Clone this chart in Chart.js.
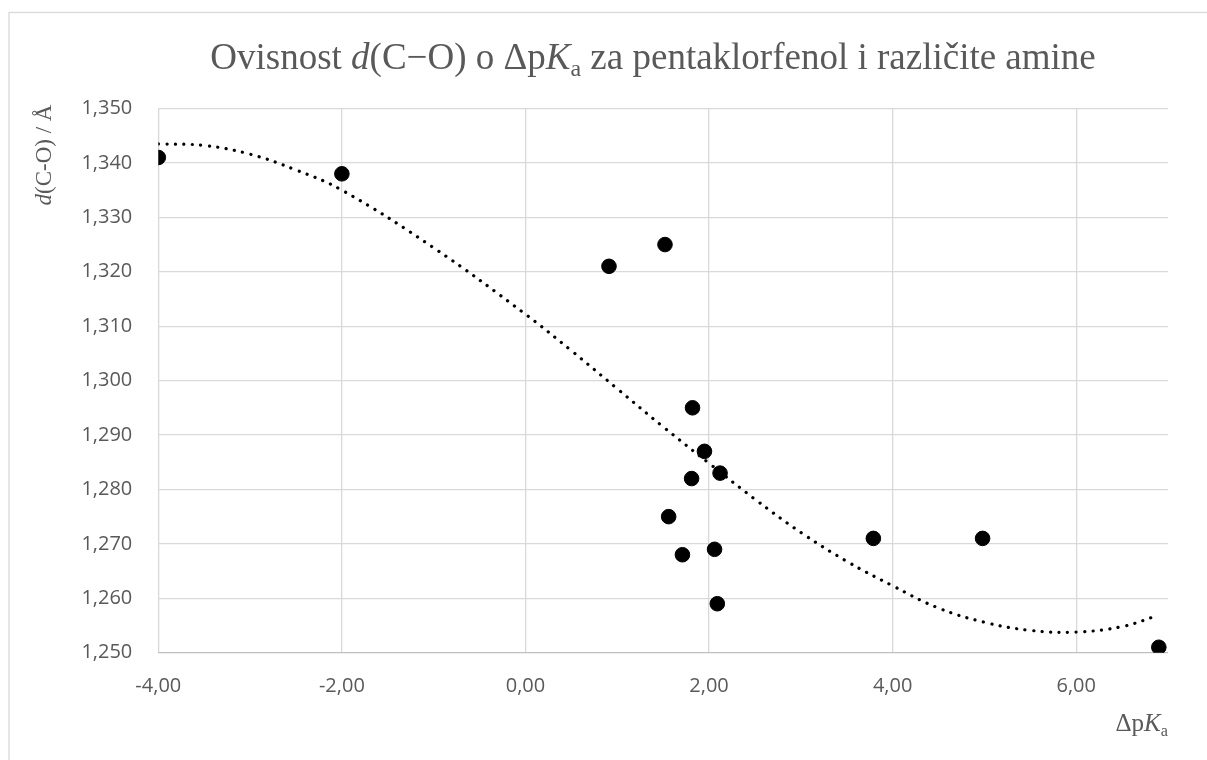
<!DOCTYPE html>
<html>
<head>
<meta charset="utf-8">
<script src="https://cdn.jsdelivr.net/npm/chart.js@4.4.1/dist/chart.umd.min.js"></script>
<style>
  body { margin: 0; background: #fff; }
  canvas { display: block; }
</style>
</head>
<body>
<canvas id="grafico" width="1207" height="760"></canvas>
<script>
// podaci ocitani sa slike
const deltaPKa = [-4.00, -2.00, 0.91, 1.52, 1.82, 1.95, 2.12, 1.81, 1.56, 1.71, 2.06, 2.09, 3.79, 4.98, 6.90];
const dCO = [1.341, 1.338, 1.321, 1.325, 1.295, 1.287, 1.283, 1.282, 1.275, 1.268, 1.269, 1.259, 1.271, 1.271, 1.251];

// trend linija (polinom) ocitana sa slike
const trendX = [-4.0, -3.5, -3.0, -2.5, -2.0, -1.0, 0.0, 0.5, 1.0, 1.5, 2.0, 2.5, 3.0, 3.5, 4.0, 4.5, 5.0, 5.5, 6.0, 6.5, 6.9];
const trendY = [1.3435, 1.3432, 1.3416, 1.3387, 1.3350, 1.3244, 1.3122, 1.3055, 1.2985, 1.2915, 1.2848, 1.2782, 1.2721, 1.2668, 1.2623, 1.2582, 1.2556, 1.2541, 1.2538, 1.2548, 1.2569];

const xTicks = [-4, -2, 0, 2, 4, 6];
const yTicks = [1.25, 1.26, 1.27, 1.28, 1.29, 1.30, 1.31, 1.32, 1.33, 1.34, 1.35];

const tocke = deltaPKa.map((x, i) => ({ x: x, y: dCO[i] }));
const trend = trendX.map((x, i) => ({ x: x, y: trendY[i] }));

const SERIF = '"Liberation Serif", "Times New Roman", serif';
const SIVA = '#595959';

// crta tekst s kurzivom i indeksima
function crtajTekst(ctx, dijelovi, x, y, size, align) {
  const font = d => (d.i ? 'italic ' : '') + (d.sub ? size * 0.65 : size) + 'px ' + SERIF;
  let sirina = 0;
  dijelovi.forEach(d => { ctx.font = font(d); sirina += ctx.measureText(d.t).width; });
  let px = align === 'right' ? x - sirina : (align === 'center' ? x - sirina / 2 : x);
  ctx.textAlign = 'left';
  ctx.textBaseline = 'alphabetic';
  dijelovi.forEach(d => {
    ctx.font = font(d);
    ctx.fillText(d.t, px, y + (d.sub ? size * 0.2 : 0));
    px += ctx.measureText(d.t).width;
  });
}

const naslovi = {
  id: 'naslovi',
  beforeDraw(chart) {
    const ctx = chart.ctx;
    ctx.save();
    ctx.strokeStyle = '#d9d9d9';
    ctx.lineWidth = 1.3;
    ctx.strokeRect(9, 12.5, 1300, 900);
    ctx.restore();
  },
  afterDraw(chart) {
    const ctx = chart.ctx;
    ctx.save();
    ctx.fillStyle = SIVA;
    crtajTekst(ctx, [
      { t: 'Ovisnost ' }, { t: 'd', i: true }, { t: '(C\u2212O) o \u0394p' },
      { t: 'K', i: true }, { t: 'a', sub: true }, { t: ' za pentaklorfenol i razli\u010dite amine' }
    ], 653, 69, 37, 'center');

    crtajTekst(ctx, [{ t: '\u0394p' }, { t: 'K', i: true }, { t: 'a', sub: true }], 1168, 731, 25, 'right');

    ctx.translate(51, 155);
    ctx.rotate(-Math.PI / 2);
    crtajTekst(ctx, [{ t: 'd', i: true }, { t: '(C-O) / \u00c5' }], 0, 0, 23, 'center');
    ctx.restore();
  }
};

new Chart(document.getElementById('grafico').getContext('2d'), {
  type: 'scatter',
  data: {
    datasets: [
      {
        label: 'd(C-O)',
        data: tocke,
        backgroundColor: '#000',
        borderColor: '#000',
        pointRadius: 7.3,
        pointHoverRadius: 7.3
      },
      {
        label: 'trend',
        type: 'line',
        data: trend,
        showLine: true,
        borderColor: '#000',
        borderWidth: 3.2,
        borderDash: [0.1, 8.4],
        borderCapStyle: 'round',
        tension: 0.4,
        pointRadius: 0,
        fill: false
      }
    ]
  },
  options: {
    responsive: false,
    animation: false,
    devicePixelRatio: 1,
    layout: { padding: { left: 0, right: 39, top: 108.5, bottom: 0 } },
    plugins: {
      legend: { display: false },
      tooltip: { enabled: false },
      title: { display: false }
    },
    scales: {
      x: {
        type: 'linear',
        min: -4,
        max: 7,
        afterBuildTicks: s => { s.ticks = xTicks.map(v => ({ value: v })); },
        afterFit: s => { s.height = 107.3; },
        grid: { color: '#d9d9d9', lineWidth: 1.3, drawTicks: false },
        border: { display: false },
        ticks: {
          padding: 22,
          color: SIVA,
          font: { family: '"Open Sans"', size: 20 },
          maxRotation: 0,
          callback: v => v.toFixed(2).replace('.', ',')
        }
      },
      y: {
        min: 1.25,
        max: 1.35,
        afterBuildTicks: s => { s.ticks = yTicks.map(v => ({ value: v })); },
        afterFit: s => { s.width = 158.3; },
        grid: {
          color: c => c.index === 0 ? '#bfbfbf' : '#d9d9d9',
          lineWidth: 1.3,
          drawTicks: false
        },
        border: { display: false },
        ticks: {
          padding: 26,
          color: SIVA,
          font: { family: '"Open Sans"', size: 20 },
          callback: v => v.toFixed(3).replace('.', ',')
        }
      }
    }
  },
  plugins: [naslovi]
});
</script>
</body>
</html>
